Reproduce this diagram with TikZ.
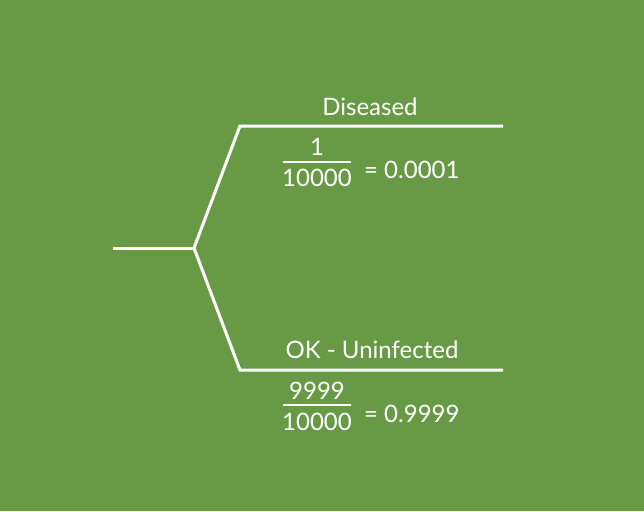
\documentclass[tikz,border=0pt]{standalone}
\usepackage{fontspec}
\setmainfont{Lato}
\definecolor{bg}{HTML}{689A46}
\begin{document}
\begin{tikzpicture}[x=1pt,y=-1pt,
  branch/.style={draw=white,line width=3pt,line join=miter},
  lbl/.style={text=white,font=\fontsize{24}{28}\selectfont,inner sep=0pt,anchor=base},
  num/.style={text=white,font=\fontsize{24}{28}\selectfont,inner sep=0pt,anchor=base}]
\fill[bg] (0,0) rectangle (644,511);
\useasboundingbox (0,0) rectangle (644,511);
\coordinate (start) at (113,248);
\coordinate (fork) at (194,248);
\coordinate (up) at (240,126);
\coordinate (upend) at (503,126);
\coordinate (dn) at (240,370);
\coordinate (dnend) at (503,370);
\draw[branch] (start) -- (fork);
\draw[branch] (fork) -- (up) -- (upend);
\draw[branch] (fork) -- (dn) -- (dnend);
% labels
\node[lbl] (dis) at (370,115) {Diseased};
\node[lbl] (ok) at (372,358) {OK - Uninfected};
% upper fraction
\node[num] (n1) at (317,155) {1};
\node[num] (d1) at (317,186) {10000};
\draw[white,line width=1.5pt] (283,162) -- (351,162);
\node[num,anchor=west] (v1) at (364,170) {= 0.0001};
% lower fraction
\node[num] (n2) at (317,399) {9999};
\node[num] (d2) at (317,430) {10000};
\draw[white,line width=1.5pt] (283,405) -- (351,405);
\node[num,anchor=west] (v2) at (364,414) {= 0.9999};
\end{tikzpicture}
\end{document}
